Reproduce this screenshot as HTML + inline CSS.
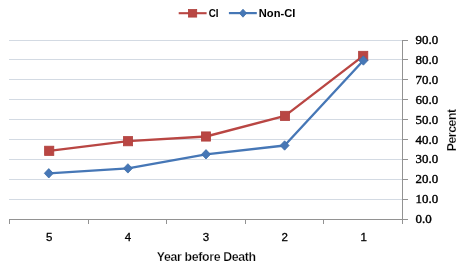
<!DOCTYPE html>
<html><head><meta charset="utf-8"><style>
html,body{margin:0;padding:0;background:#fff;width:466px;height:270px;overflow:hidden}
svg{display:block;will-change:transform}
.yl{font-family:"Liberation Serif",serif;font-size:13.2px;fill:#000;stroke:#000;stroke-width:0.4px}
.xl{font-family:"Liberation Sans",sans-serif;font-size:11.5px;fill:#000;stroke:#000;stroke-width:0.3px}
.tt{font-family:"Liberation Sans",sans-serif;font-size:12.3px;font-weight:bold;fill:#000;stroke:#fff;stroke-width:0.25px}
.lg{font-family:"Liberation Sans",sans-serif;font-size:11px;font-weight:bold;fill:#000}
</style></head><body>
<svg width="466" height="270" viewBox="0 0 466 270">
<rect width="466" height="270" fill="#fff"/>
<line x1="9" y1="59.5" x2="402" y2="59.5" stroke="#D3DAE3" stroke-width="1"/>
<line x1="9" y1="79.5" x2="402" y2="79.5" stroke="#D3DAE3" stroke-width="1"/>
<line x1="9" y1="99.5" x2="402" y2="99.5" stroke="#D3DAE3" stroke-width="1"/>
<line x1="9" y1="119.5" x2="402" y2="119.5" stroke="#D3DAE3" stroke-width="1"/>
<line x1="9" y1="139.5" x2="402" y2="139.5" stroke="#D3DAE3" stroke-width="1"/>
<line x1="9" y1="159.5" x2="402" y2="159.5" stroke="#D3DAE3" stroke-width="1"/>
<line x1="9" y1="179.5" x2="402" y2="179.5" stroke="#D3DAE3" stroke-width="1"/>
<line x1="9" y1="199.5" x2="402" y2="199.5" stroke="#D3DAE3" stroke-width="1"/>
<line x1="9" y1="40.5" x2="402" y2="40.5" stroke="#D3DAE3" stroke-width="1"/>
<line x1="402.5" y1="40" x2="402.5" y2="224" stroke="#929292" stroke-width="1"/>
<line x1="9" y1="219.5" x2="408" y2="219.5" stroke="#929292" stroke-width="1"/>
<line x1="9.5" y1="219" x2="9.5" y2="224" stroke="#929292" stroke-width="1"/>
<line x1="88.5" y1="219" x2="88.5" y2="224" stroke="#929292" stroke-width="1"/>
<line x1="166.5" y1="219" x2="166.5" y2="224" stroke="#929292" stroke-width="1"/>
<line x1="245.5" y1="219" x2="245.5" y2="224" stroke="#929292" stroke-width="1"/>
<line x1="323.5" y1="219" x2="323.5" y2="224" stroke="#929292" stroke-width="1"/>
<line x1="402" y1="40.5" x2="408" y2="40.5" stroke="#929292" stroke-width="1"/>
<line x1="402" y1="59.5" x2="408" y2="59.5" stroke="#929292" stroke-width="1"/>
<line x1="402" y1="79.5" x2="408" y2="79.5" stroke="#929292" stroke-width="1"/>
<line x1="402" y1="99.5" x2="408" y2="99.5" stroke="#929292" stroke-width="1"/>
<line x1="402" y1="119.5" x2="408" y2="119.5" stroke="#929292" stroke-width="1"/>
<line x1="402" y1="139.5" x2="408" y2="139.5" stroke="#929292" stroke-width="1"/>
<line x1="402" y1="159.5" x2="408" y2="159.5" stroke="#929292" stroke-width="1"/>
<line x1="402" y1="179.5" x2="408" y2="179.5" stroke="#929292" stroke-width="1"/>
<line x1="402" y1="199.5" x2="408" y2="199.5" stroke="#929292" stroke-width="1"/>
<polyline points="49.2,150.8 128,141.2 206,136.5 285,115.9 363.2,55.9" fill="none" stroke="#B94643" stroke-width="2.35" stroke-linejoin="round" stroke-linecap="round"/>
<rect x="44.6" y="146.20000000000002" width="9.2" height="9.2" fill="#B94643" stroke="#B0403D" stroke-width="0.8"/>
<rect x="123.4" y="136.6" width="9.2" height="9.2" fill="#B94643" stroke="#B0403D" stroke-width="0.8"/>
<rect x="201.4" y="131.9" width="9.2" height="9.2" fill="#B94643" stroke="#B0403D" stroke-width="0.8"/>
<rect x="280.4" y="111.30000000000001" width="9.2" height="9.2" fill="#B94643" stroke="#B0403D" stroke-width="0.8"/>
<rect x="358.59999999999997" y="51.3" width="9.2" height="9.2" fill="#B94643" stroke="#B0403D" stroke-width="0.8"/>
<polyline points="48.8,173.3 127.9,168.4 206,154.3 284.6,145.5 363.4,60.5" fill="none" stroke="#4677B6" stroke-width="2.35" stroke-linejoin="round" stroke-linecap="round"/>
<path d="M48.8,168.60000000000002 L53.3,173.3 L48.8,178.0 L44.3,173.3 Z" fill="#4677B6" stroke="#3F6FA8" stroke-width="0.8"/>
<path d="M127.9,163.70000000000002 L132.4,168.4 L127.9,173.1 L123.4,168.4 Z" fill="#4677B6" stroke="#3F6FA8" stroke-width="0.8"/>
<path d="M206,149.60000000000002 L210.5,154.3 L206,159.0 L201.5,154.3 Z" fill="#4677B6" stroke="#3F6FA8" stroke-width="0.8"/>
<path d="M284.6,140.8 L289.1,145.5 L284.6,150.2 L280.1,145.5 Z" fill="#4677B6" stroke="#3F6FA8" stroke-width="0.8"/>
<path d="M363.4,55.8 L367.9,60.5 L363.4,65.2 L358.9,60.5 Z" fill="#4677B6" stroke="#3F6FA8" stroke-width="0.8"/>
<text x="415.5" y="223.1" class="yl" textLength="16.2" lengthAdjust="spacingAndGlyphs">0.0</text>
<text x="415.5" y="203.2" class="yl" textLength="22.6" lengthAdjust="spacingAndGlyphs">10.0</text>
<text x="415.5" y="183.3" class="yl" textLength="22.6" lengthAdjust="spacingAndGlyphs">20.0</text>
<text x="415.5" y="163.4" class="yl" textLength="22.6" lengthAdjust="spacingAndGlyphs">30.0</text>
<text x="415.5" y="143.5" class="yl" textLength="22.6" lengthAdjust="spacingAndGlyphs">40.0</text>
<text x="415.5" y="123.7" class="yl" textLength="22.6" lengthAdjust="spacingAndGlyphs">50.0</text>
<text x="415.5" y="103.8" class="yl" textLength="22.6" lengthAdjust="spacingAndGlyphs">60.0</text>
<text x="415.5" y="83.9" class="yl" textLength="22.6" lengthAdjust="spacingAndGlyphs">70.0</text>
<text x="415.5" y="64.0" class="yl" textLength="22.6" lengthAdjust="spacingAndGlyphs">80.0</text>
<text x="415.5" y="44.1" class="yl" textLength="22.6" lengthAdjust="spacingAndGlyphs">90.0</text>
<text x="49.3" y="240.6" class="xl" text-anchor="middle">5</text>
<text x="128" y="240.6" class="xl" text-anchor="middle">4</text>
<text x="206" y="240.6" class="xl" text-anchor="middle">3</text>
<text x="284.6" y="240.6" class="xl" text-anchor="middle">2</text>
<text x="363.8" y="240.6" class="xl" text-anchor="middle">1</text>
<text x="156.8" y="261.4" class="tt" textLength="99.3" lengthAdjust="spacing">Year before Death</text>
<text transform="translate(455.9,151.3) rotate(-90)" class="tt" textLength="42.5" lengthAdjust="spacing">Percent</text>
<line x1="178.7" y1="13.2" x2="206.6" y2="13.2" stroke="#B94643" stroke-width="2.1"/>
<rect x="188.4" y="9.5" width="8.3" height="7.6" fill="#B94643" stroke="#B0403D" stroke-width="0.8"/>
<text x="208.7" y="16.7" class="lg" textLength="9.8" lengthAdjust="spacingAndGlyphs">CI</text>
<line x1="228.9" y1="13.1" x2="256.8" y2="13.1" stroke="#4677B6" stroke-width="2.2"/>
<path d="M243,9.2 L246.6,13.2 L243,17.2 L239.4,13.2 Z" fill="#4677B6" stroke="#3F6FA8" stroke-width="0.8"/>
<text x="258.8" y="16.6" class="lg" textLength="36.5" lengthAdjust="spacingAndGlyphs">Non-CI</text>
</svg>
</body></html>
